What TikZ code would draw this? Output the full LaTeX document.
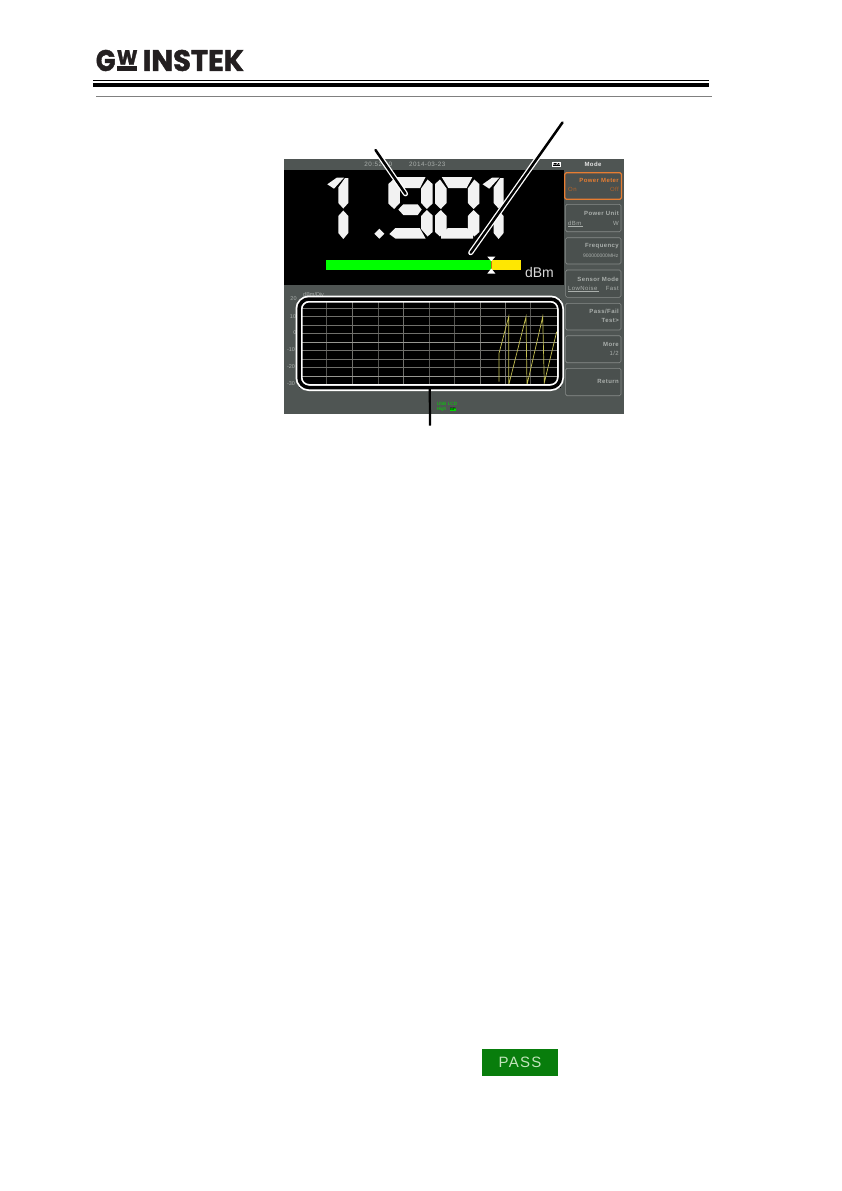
\documentclass[tikz,border=0pt]{standalone}
\usepackage{fontspec}
\setmainfont{Liberation Sans}
\newfontfamily\logofont[BoldFeatures={FakeBold=1.6}]{Poppins}
\newfontfamily\keyfont[LetterSpace=7]{Liberation Sans}
\usetikzlibrary{calc}
\definecolor{screengray}{RGB}{79, 85, 83}
\definecolor{softkeygray}{RGB}{74, 80, 78}
\definecolor{labelgray}{RGB}{170, 175, 172}
\definecolor{logoblack}{RGB}{35, 31, 32}
\definecolor{keyorange}{RGB}{230, 125, 50}
\definecolor{barorange}{RGB}{200, 110, 20}
\definecolor{passgreen}{RGB}{8, 125, 12}
\definecolor{passtext}{RGB}{195, 228, 188}
\definecolor{tracecolor}{RGB}{195, 190, 80}
\definecolor{griddim}{RGB}{85, 85, 82}
\definecolor{gridmid}{RGB}{112, 112, 108}
\definecolor{gridbright}{RGB}{150, 150, 145}

% seven segment pieces, #1 is the left edge of the digit
\newcommand{\segtop}[1]{\fill[digit,shift={(#1,0)}] (6.7,177) -- (37.3,177) -- (31.7,188) -- (13.3,188) -- cycle;}
\newcommand{\segul}[1]{\fill[digit,shift={(#1,0)}] (0,184) -- (5,179.5) -- (11.5,188.5) -- (11.5,203) -- (5.8,209) -- (0,203.5) -- cycle;}
\newcommand{\segur}[1]{\fill[digit,shift={(#1,0)}] (44.3,184) -- (39.3,179.5) -- (32.8,188.5) -- (32.8,203) -- (38.5,209) -- (44.3,203.5) -- cycle;}
\newcommand{\segll}[1]{\fill[digit,shift={(#1,0)}] (0,215.5) -- (5.8,210) -- (11.5,216) -- (11.5,229) -- (5,236.5) -- (0,232) -- cycle;}
\newcommand{\seglr}[1]{\fill[digit,shift={(#1,0)}] (44.3,215.5) -- (38.5,210) -- (32.8,216) -- (32.8,229) -- (39.3,236.5) -- (44.3,232) -- cycle;}
\newcommand{\segbot}[1]{\fill[digit,shift={(#1,0)}] (1,234) -- (7,228) -- (31.5,228) -- (37.3,238.5) -- (7,238.5) -- cycle;}
\newcommand{\segmid}[1]{\fill[digit,shift={(#1,0)}] (10,209.5) -- (15,204.3) -- (29.4,204.3) -- (33.4,209.5) -- (29.4,215) -- (15,215) -- cycle;}
\newcommand{\segone}[1]{%
  \fill[digit,shift={(#1,0)}] (0,184.3) -- (9.4,177.7) -- (16.7,177.7) -- (6.7,188.7) -- cycle;
  \fill[digit,shift={(#1,0)}] (17.7,178) -- (21,178) -- (21,203) -- (16,208.5) -- (11,203) -- (11,187.5) -- cycle;
  \fill[digit,shift={(#1,0)}] (16,210.5) -- (21,216) -- (21,233) -- (16,239) -- (11,233) -- (11,216) -- cycle;}

\begin{document}
\begin{tikzpicture}[
    x=1pt, y=-1pt,
    digit/.style={fill=white!95!black},
    softkey/.style={draw=#1, rounded corners=1.5pt, fill=softkeygray},
    softkey/.default=labelgray!80!black,
    keylabel/.style={font=\keyfont\fontsize{6}{7}\selectfont\bfseries, text=labelgray, inner sep=0pt},
    keyvalue/.style={font=\keyfont\fontsize{6}{7}\selectfont, text=labelgray, inner sep=0pt},
    axislabel/.style={font=\fontsize{5.5}{6.5}\selectfont, text=labelgray, inner sep=0pt},
    statuslabel/.style={font=\fontsize{4.6}{5}\selectfont, text=green!85!black, inner sep=0pt},
    toplabel/.style={font=\keyfont\fontsize{6.3}{7}\selectfont, text=labelgray, inner sep=0pt},
    callout/.style={draw=white, double=black, line width=1.3pt, double distance=2.5pt, line cap=round}
]
    \useasboundingbox (0,0) rectangle (842,1191);
    \fill[white] (0,0) rectangle (842,1191);

    % Header logo
    \node[inner sep=0pt, anchor=west, text=logoblack] (logog) at (95.7,60.5) {\resizebox{19.5pt}{21pt}{\logofont\bfseries G}};
    \node[inner sep=0pt, anchor=north west, text=logoblack] (logow) at (116.7,50) {\resizebox{20.6pt}{14.5pt}{\logofont\bfseries W}};
    \fill[logoblack] (116.7,66) rectangle (137.3,71);
    \node[inner sep=0pt, anchor=west, text=logoblack] (logoname) at (142.7,60.5) {\resizebox{101pt}{21pt}{\logofont\bfseries INSTEK}};

    % Header rules
    \fill[black] (93,79.6) rectangle (709,80.8);
    \fill[black] (93,82.7) rectangle (709,87);
    \fill[gray] (96,95.6) rectangle (712,96.6);

    % Screen
    \fill[screengray] (284,159) rectangle (624,414);
    \fill[black] (284,170) rectangle (563.5,285);
    \node[toplabel] (clock) at (378.3,164.3) {20:52:00};
    \node[toplabel] (date) at (427.3,164.3) {2014-03-23};
    \node[draw=white, fill=black, text=white, font=\fontsize{4.5}{5}\selectfont\bfseries, inner sep=0.6pt] (lxi) at (556.5,164) {LXI};
    \node[toplabel, font=\keyfont\fontsize{6}{7}\selectfont\bfseries, text=white!90!black] (modelabel) at (593,164.3) {Mode};

    % Reading
    \segone{327.3}
    \fill[digit] (379.3,228.7) -- (384.3,233.7) -- (379.3,238.7) -- (374.3,233.7) -- cycle;
    \segtop{388.3} \segul{388.3} \segur{388.3} \segmid{388.3} \seglr{388.3} \segbot{388.3}
    \segtop{435} \segul{435} \segur{435} \segll{435} \seglr{435}
    \fill[digit] (441,238.5) -- (441,233) -- (448,228) -- (467,228) -- (473,233) -- (473,238.5) -- cycle;
    \segone{482.6}
    \node[font=\fontsize{14}{16}\selectfont, text=white!85!black, inner sep=0pt] (unit) at (539.5,272.5) {dBm};

    % Level bar
    \fill[green] (325.7,260.3) rectangle (491,270);
    \fill[yellow!90!orange] (491,260.3) rectangle (521.3,270);
    \draw[barorange, line width=0.8pt] (491,260.3) -- (491,270);
    \fill[white] (487.3,256.7) -- (495.3,256.7) -- (491.3,261.3) -- cycle;
    \fill[white] (491.3,268.5) -- (495.3,273.5) -- (487.3,273.5) -- cycle;

    % Axis labels
    \node[axislabel] (ytwenty) at (293.5,298.5) {20};
    \node[axislabel] (yten) at (293,316.5) {10};
    \node[axislabel] (yzero) at (295,333) {0};
    \node[axislabel] (ymten) at (291,350) {-10};
    \node[axislabel] (ymtwenty) at (291,367) {-20};
    \node[axislabel] (ymthirty) at (291,384) {-30};
    \node[axislabel, anchor=west] (ydiv) at (303,295) {dBm/Div};

    % Trace window
    \fill[black] (299,299) rectangle (560.5,387.5);
    \foreach \xpos/\gridcol in {326.7/griddim, 352.3/gridmid, 378.3/griddim, 403.3/gridmid, 429/griddim, 454.3/griddim, 480.3/gridmid, 505.3/gridmid, 530.7/griddim}
        \draw[\gridcol, line width=0.5pt] (\xpos,300) -- (\xpos,386);
    \foreach \ypos/\gridcol in {308.3/gridmid, 316.7/gridmid, 325/gridmid, 333.3/gridmid, 342.3/gridbright, 350.7/gridmid, 359.3/gridmid, 367.7/gridmid, 376.7/gridbright}
        \draw[\gridcol, line width=0.5pt] (300,\ypos) -- (560,\ypos);
    \draw[tracecolor, line width=0.7pt] (499,381.7) -- (499,353.3) -- (508.7,316.7) -- (508.7,385)
        -- (526,316.7) -- (527,385) -- (542.7,316.7) -- (544.3,382.7) -- (556.7,331.7);
    \node[draw=white, double=black, line width=1.75pt, double distance=3.5pt, rounded corners=10pt,
        minimum width=261.5pt, minimum height=88.5pt, inner sep=0pt] (tracebox) at (429.75,343.25) {};

    % Status text
    \node[statuslabel] (usb) at (441.5,404) {USB};
    \node[statuslabel] (lcd) at (452.5,404) {LCD};
    \node[statuslabel] (hisn) at (441.5,409.5) {High};
    \node[fill=green!85!black, text=black, font=\fontsize{4}{4.5}\selectfont, inner sep=0.3pt] (bp) at (453,409.5) {BP};

    % Softkeys
    \draw[softkey=keyorange, line width=1.3pt] (564.8,172.7) rectangle (621.5,199.3);
    \foreach \ytop/\ybot in {204.3/231.7, 237.7/264, 270/297.3, 303.3/330, 335.7/362.7, 368.3/395.7}
        \draw[softkey, line width=0.6pt] (565.6,\ytop) rectangle (621,\ybot);

    \node[keylabel, anchor=east, text=keyorange] (meterkey) at (619,180.5) {Power Meter};
    \node[keyvalue, anchor=west, text=keyorange!80!black] (meteron) at (568,189.5) {On};
    \node[keyvalue, anchor=east, text=keyorange!80!black] (meteroff) at (619,189.5) {Off};
    \node[keylabel, anchor=east] (unitkey) at (619,213) {Power Unit};
    \node[keyvalue, anchor=west] (unitdbm) at (568,223) {dBm};
    \draw[labelgray, line width=0.3pt] (568,226.5) -- (583,226.5);
    \node[keyvalue, anchor=east] (unitw) at (619,223) {W};
    \node[keylabel, anchor=east] (freqkey) at (619,246) {Frequency};
    \node[keyvalue, anchor=east, font=\fontsize{5}{6}\selectfont] (freqval) at (618.5,255.5) {900000000MHz};
    \node[keylabel, anchor=east] (sensorkey) at (619,279) {Sensor Mode};
    \node[keyvalue, anchor=west] (sensorlow) at (568,288) {LowNoise};
    \draw[labelgray, line width=0.3pt] (568,291.5) -- (599,291.5);
    \node[keyvalue, anchor=east] (sensorfast) at (619,288) {Fast};
    \node[keylabel, anchor=east] (passkey) at (619,311.5) {Pass/Fail};
    \node[keylabel, anchor=east] (testkey) at (619,320.5) {Test>};
    \node[keylabel, anchor=east] (morekey) at (619,344.5) {More};
    \node[keyvalue, anchor=east] (pagekey) at (619,353.5) {1/2};
    \node[keylabel, anchor=east] (returnkey) at (619,381.5) {Return};

    % Callouts
    \coordinate (readingtip) at (405.5,193.8);
    \coordinate (readingend) at (375.5,150);
    \coordinate (bartip) at (470.7,252.7);
    \coordinate (barend) at (562.5,122.5);
    \coordinate (traceend) at (430,425.5);
    \draw[callout] (readingend) -- (readingtip);
    \draw[callout] (barend) -- (bartip);
    \draw[black, line width=2.2pt] (tracebox.south) -- (traceend);

    % Pass indicator
    \node[fill=passgreen, text=passtext, font=\fontsize{15}{17}\selectfont, inner sep=0pt,
        minimum width=75.5pt, minimum height=26.7pt] (passflag) at (520,1062.4) {\addfontfeature{LetterSpace=9}PASS};
\end{tikzpicture}
\end{document}
